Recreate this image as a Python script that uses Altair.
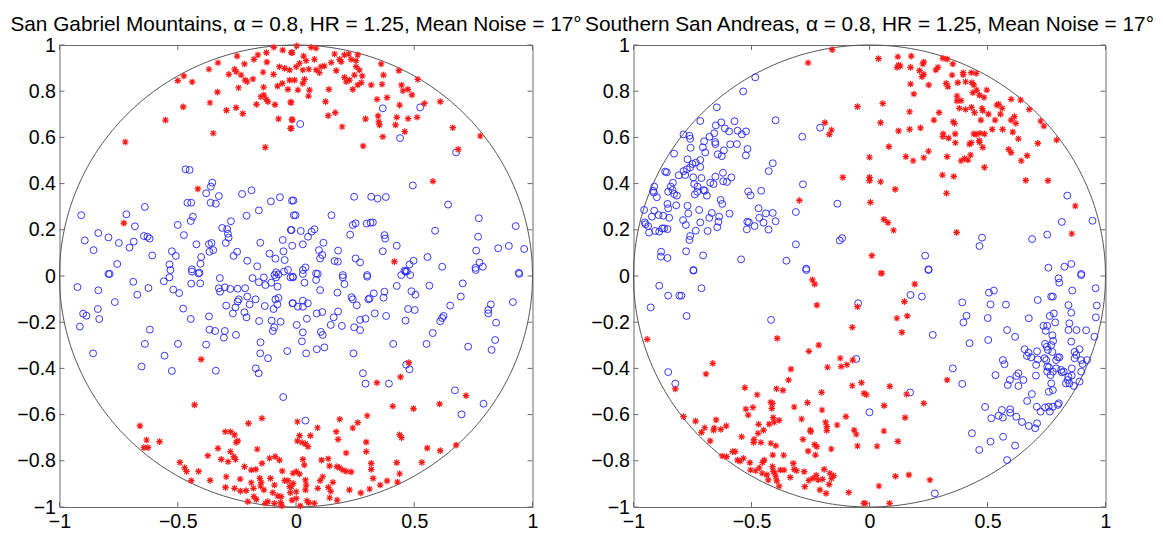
import altair as alt
import numpy as np
import pandas as pd

# ---------------- data ----------------
titles = [
    "San Gabriel Mountains, \u03b1 = 0.8, HR = 1.25, Mean Noise = 17\u00b0",
    "Southern San Andreas, \u03b1 = 0.8, HR = 1.25, Mean Noise = 17\u00b0",
]
x_ticks = [-1, -0.5, 0, 0.5, 1]
y_ticks = [-1, -0.8, -0.6, -0.4, -0.2, 0, 0.2, 0.4, 0.6, 0.8, 1]

# Left panel (San Gabriel Mountains): red asterisks
sg_red = [
    (-0.094, 0.990), (-0.056, 0.978), (-0.020, 0.967), (-0.249, 0.952), (-0.161, 0.957), (-0.125, 0.967),
    (-0.330, 0.923), (-0.218, 0.918), (-0.178, 0.938), (-0.123, 0.926), (-0.368, 0.895), (-0.260, 0.895),
    (-0.253, 0.885), (-0.284, 0.873), (-0.232, 0.870), (-0.215, 0.848), (-0.206, 0.841), (-0.182, 0.853),
    (-0.139, 0.882), (-0.095, 0.873), (-0.070, 0.906), (-0.048, 0.899), (-0.027, 0.892), (-0.474, 0.866),
    (-0.500, 0.846), (-0.439, 0.840), (-0.243, 0.815), (-0.137, 0.817), (-0.078, 0.822), (-0.058, 0.834),
    (-0.034, 0.808), (-0.027, 0.848), (-0.332, 0.796), (-0.149, 0.776), (-0.136, 0.783), (-0.126, 0.765),
    (-0.119, 0.755), (-0.167, 0.743), (-0.089, 0.742), (-0.023, 0.753), (-0.364, 0.750), (-0.477, 0.732),
    (-0.294, 0.717), (-0.253, 0.729), (-0.225, 0.703), (-0.552, 0.675), (-0.074, 0.680), (-0.017, 0.678),
    (-0.023, 0.639), (-0.350, 0.618), (-0.722, 0.580), (-0.130, 0.557), (-0.415, 0.377), (-0.728, 0.229),
    (0.003, 0.996), (-0.016, 0.967), (0.032, 0.952), (0.064, 0.990), (0.085, 0.986), (0.043, 0.932),
    (0.078, 0.938), (0.015, 0.921), (0.001, 0.906), (0.029, 0.892), (0.054, 0.895), (0.085, 0.892),
    (0.106, 0.906), (0.120, 0.909), (0.099, 0.880), (0.149, 0.924), (0.163, 0.961), (0.170, 0.889),
    (0.184, 0.938), (0.191, 0.928), (0.205, 0.957), (0.223, 0.961), (0.233, 0.938), (0.254, 0.932),
    (0.261, 0.957), (0.254, 0.906), (0.268, 0.892), (0.280, 0.866), (0.247, 0.870), (0.205, 0.860),
    (0.212, 0.841), (0.226, 0.848), (0.261, 0.827), (0.276, 0.837), (0.240, 0.808), (0.318, 0.827),
    (0.360, 0.918), (0.370, 0.870), (0.364, 0.830), (0.435, 0.889), (0.446, 0.827), (0.452, 0.802),
    (0.473, 0.808), (0.490, 0.784), (0.515, 0.851), (0.543, 0.747), (0.610, 0.755), (0.343, 0.765),
    (0.385, 0.772), (0.438, 0.740), (0.139, 0.808), (0.057, 0.805), (0.053, 0.779), (0.008, 0.805),
    (-0.020, 0.750), (0.125, 0.755), (0.166, 0.707), (0.136, 0.694), (-0.016, 0.675), (-0.020, 0.639),
    (0.195, 0.646), (0.294, 0.680), (0.347, 0.693), (0.350, 0.668), (0.353, 0.654), (0.426, 0.687),
    (0.421, 0.654), (0.474, 0.681), (0.512, 0.687), (0.460, 0.625), (0.367, 0.603), (0.284, 0.563),
    (0.663, 0.642), (0.779, 0.606), (0.686, 0.548), (0.579, 0.410), (0.416, 0.062), (0.036, 0.851),
    (0.029, 0.834), (-0.006, 0.848),
    (-0.401, -0.361), (-0.429, -0.558), (-0.660, -0.649), (-0.632, -0.710), (-0.643, -0.743), (-0.626, -0.743),
    (-0.577, -0.717), (-0.491, -0.807), (-0.471, -0.830), (-0.463, -0.846), (-0.412, -0.846), (-0.443, -0.886),
    (-0.363, -0.885), (-0.373, -0.778), (-0.330, -0.746), (-0.316, -0.794), (-0.299, -0.674), (-0.277, -0.674),
    (-0.277, -0.760), (-0.260, -0.688), (-0.253, -0.720), (-0.246, -0.714), (-0.263, -0.782), (-0.256, -0.794),
    (-0.287, -0.804), (-0.201, -0.638), (-0.144, -0.616), (-0.164, -0.750), (-0.218, -0.825), (-0.189, -0.840),
    (-0.170, -0.837), (-0.144, -0.811), (-0.112, -0.789), (-0.088, -0.782), (-0.070, -0.797), (-0.058, -0.844),
    (-0.048, -0.886), (-0.034, -0.886), (-0.013, -0.854), (-0.012, -0.898), (-0.027, -0.912), (-0.295, -0.869),
    (-0.298, -0.915), (-0.260, -0.919), (-0.236, -0.879), (-0.235, -0.931), (-0.211, -0.929), (-0.189, -0.895),
    (-0.180, -0.919), (-0.153, -0.876), (-0.147, -0.893), (-0.150, -0.909), (-0.136, -0.926), (-0.108, -0.876),
    (-0.091, -0.905), (-0.098, -0.938), (-0.077, -0.952), (-0.063, -0.955), (-0.119, -0.977), (-0.130, -0.984),
    (-0.091, -0.984), (-0.065, -0.981), (-0.060, -0.995), (-0.178, -0.955), (-0.168, -0.967), (-0.204, -0.977),
    (-0.024, -0.938), (-0.017, -0.970),
    (0.477, -0.375), (0.442, -0.437), (0.342, -0.462), (0.409, -0.564), (0.497, -0.574), (0.607, -0.554),
    (0.719, -0.518), (0.301, -0.605), (0.185, -0.620), (0.261, -0.635), (0.240, -0.658), (0.091, -0.657),
    (0.061, -0.691), (0.006, -0.631), (0.015, -0.691), (0.006, -0.714), (0.026, -0.721), (0.040, -0.727),
    (0.051, -0.739), (0.170, -0.674), (0.178, -0.707), (0.297, -0.719), (0.297, -0.760), (0.212, -0.766),
    (0.438, -0.687), (0.446, -0.700), (0.555, -0.745), (0.610, -0.756), (0.677, -0.732), (0.532, -0.807),
    (0.426, -0.808), (0.438, -0.856), (0.318, -0.811), (0.318, -0.837), (0.326, -0.876), (0.385, -0.887),
    (0.429, -0.892), (0.356, -0.905), (0.311, -0.922), (0.274, -0.939), (0.226, -0.926), (0.233, -0.848),
    (0.212, -0.846), (0.173, -0.825), (0.184, -0.830), (0.198, -0.840), (0.136, -0.791), (0.108, -0.797),
    (0.142, -0.822), (0.113, -0.869), (0.102, -0.886), (0.156, -0.893), (0.137, -0.915), (0.147, -0.932),
    (0.142, -0.960), (0.174, -0.970), (0.092, -0.919), (0.029, -0.794), (0.035, -0.818), (0.040, -0.883),
    (0.043, -0.905), (0.040, -0.926), (0.001, -0.847), (0.015, -0.857), (0.001, -0.934), (0.001, -0.963),
    (0.046, -0.973), (0.054, -0.981), (0.078, -0.984), (0.018, -0.995), (-0.020, -0.912),
]

# Left panel: blue circles
sg_blue = [
    (-0.467, 0.462), (-0.450, 0.459), (-0.354, 0.404), (-0.360, 0.387), (-0.380, 0.358), (-0.326, 0.346),
    (-0.228, 0.355), (-0.188, 0.371), (-0.361, 0.317), (-0.339, 0.313), (-0.459, 0.317), (-0.443, 0.317),
    (-0.639, 0.299), (-0.106, 0.323), (-0.068, 0.341), (-0.017, 0.326), (-0.908, 0.263), (-0.717, 0.267),
    (-0.436, 0.257), (-0.445, 0.238), (-0.209, 0.261), (-0.157, 0.284), (-0.009, 0.263), (-0.275, 0.237),
    (-0.681, 0.215), (-0.500, 0.221), (-0.312, 0.208), (-0.291, 0.203), (-0.836, 0.186), (-0.793, 0.167),
    (-0.749, 0.143), (-0.686, 0.149), (-0.643, 0.173), (-0.628, 0.170), (-0.619, 0.162), (-0.474, 0.177),
    (-0.288, 0.183), (-0.285, 0.166), (-0.893, 0.154), (-0.856, 0.112), (-0.704, 0.123), (-0.608, 0.089),
    (-0.525, 0.107), (-0.508, 0.087), (-0.421, 0.137), (-0.368, 0.138), (-0.357, 0.143), (-0.366, 0.105),
    (-0.350, 0.112), (-0.297, 0.143), (-0.249, 0.105), (-0.264, 0.087), (-0.206, 0.066), (-0.164, 0.042),
    (-0.151, 0.144), (-0.112, 0.097), (-0.087, 0.075), (-0.053, 0.107), (-0.056, 0.156), (-0.022, 0.199),
    (-0.048, 0.069), (-0.756, 0.052), (-0.793, 0.009), (-0.535, 0.050), (-0.531, 0.026), (-0.440, 0.029),
    (-0.404, 0.053), (-0.401, 0.082), (-0.412, 0.011), (-0.084, 0.016), (-0.034, 0.026),
    (0.367, 0.726), (0.525, 0.730), (0.018, 0.658), (0.440, 0.597), (0.677, 0.535), (0.494, 0.392),
    (-0.011, 0.327), (0.246, 0.343), (0.318, 0.343), (0.345, 0.335), (0.380, 0.342), (0.643, 0.309),
    (-0.002, 0.263), (0.150, 0.263), (0.773, 0.250), (-0.019, 0.199), (0.020, 0.195), (0.066, 0.192),
    (0.078, 0.202), (0.240, 0.221), (0.252, 0.228), (0.299, 0.227), (0.315, 0.231), (0.325, 0.232),
    (0.229, 0.179), (0.374, 0.177), (0.377, 0.162), (0.588, 0.196), (0.929, 0.216), (0.770, 0.170),
    (0.051, 0.170), (0.029, 0.137), (-0.016, 0.131), (0.116, 0.144), (0.426, 0.131), (0.178, 0.110),
    (0.097, 0.112), (0.111, 0.091), (0.102, 0.076), (0.367, 0.107), (0.762, 0.110), (0.855, 0.120),
    (0.900, 0.130), (0.965, 0.117), (0.163, 0.065), (0.177, 0.062), (0.252, 0.076), (0.271, 0.059),
    (0.556, 0.082), (0.497, 0.066), (0.480, 0.050), (0.459, 0.023), (0.469, 0.020), (0.618, 0.040),
    (0.776, 0.058), (0.790, 0.040), (0.759, 0.035), (0.942, 0.014), (0.029, 0.026), (0.040, 0.037),
    (0.198, 0.004), (0.301, 0.004), (0.085, 0.011),
    (-0.788, 0.009), (-0.688, -0.025), (-0.924, -0.048), (-0.836, -0.062), (-0.671, -0.081), (-0.624, -0.052),
    (-0.559, -0.023), (-0.535, -0.006), (-0.519, -0.059), (-0.494, -0.074), (-0.443, -0.033), (-0.440, 0.019),
    (-0.405, -0.032), (-0.408, 0.014), (-0.322, -0.009), (-0.326, -0.053), (-0.321, -0.068), (-0.301, -0.049),
    (-0.278, -0.056), (-0.247, -0.055), (-0.215, -0.053), (-0.184, -0.009), (-0.157, -0.027), (-0.136, -0.006),
    (-0.129, -0.039), (-0.105, -0.029), (-0.091, 0.004), (-0.084, -0.006), (-0.078, -0.046), (-0.074, 0.007),
    (-0.051, 0.019), (-0.023, -0.006), (-0.013, -0.003), (-0.766, -0.113), (-0.900, -0.163), (-0.886, -0.172),
    (-0.838, -0.143), (-0.832, -0.186), (-0.914, -0.219), (-0.618, -0.232), (-0.639, -0.294), (-0.858, -0.335),
    (-0.556, -0.345), (-0.653, -0.392), (-0.525, -0.411), (-0.499, -0.294), (-0.477, -0.141), (-0.445, -0.186),
    (-0.368, -0.175), (-0.366, -0.232), (-0.342, -0.238), (-0.301, -0.238), (-0.305, -0.267), (-0.380, -0.297),
    (-0.254, -0.255), (-0.295, -0.128), (-0.267, -0.162), (-0.256, -0.136), (-0.247, -0.111), (-0.242, -0.101),
    (-0.218, -0.157), (-0.209, -0.179), (-0.206, -0.089), (-0.196, -0.123), (-0.171, -0.101), (-0.156, -0.195),
    (-0.132, -0.130), (-0.095, -0.143), (-0.103, -0.193), (-0.092, -0.222), (-0.098, -0.238), (-0.087, -0.101),
    (-0.079, -0.123), (-0.065, -0.198), (-0.074, -0.095), (-0.150, -0.287), (-0.151, -0.335), (-0.118, -0.356),
    (-0.170, -0.400), (-0.158, -0.421), (-0.339, -0.410), (-0.037, -0.325), (-0.054, -0.524), (-0.015, -0.118),
    (-0.013, -0.006), (0.029, 0.009), (0.036, -0.029), (0.085, -0.017), (0.092, 0.009), (0.102, -0.061),
    (0.198, -0.006), (0.205, -0.035), (0.301, -0.003), (0.445, 0.004), (0.463, 0.019), (0.483, 0.004),
    (0.564, -0.042), (0.705, -0.032), (0.760, 0.026), (0.944, 0.009), (0.426, -0.043), (0.374, -0.068),
    (0.370, -0.094), (0.329, -0.075), (0.311, -0.097), (0.306, -0.101), (0.240, -0.101), (0.235, -0.092),
    (0.257, -0.127), (0.175, -0.072), (0.178, -0.154), (0.159, -0.179), (0.147, -0.212), (0.194, -0.216),
    (0.246, -0.222), (0.271, -0.234), (0.271, -0.190), (0.294, -0.185), (0.333, -0.162), (0.381, -0.173),
    (0.488, -0.066), (0.505, -0.081), (0.474, -0.143), (0.502, -0.147), (0.463, -0.193), (0.610, -0.196),
    (0.618, -0.182), (0.624, -0.173), (0.652, -0.128), (0.697, -0.089), (0.824, -0.123), (0.813, -0.147),
    (0.813, -0.162), (0.846, -0.202), (0.917, -0.113), (0.842, -0.277), (0.827, -0.320), (0.728, -0.306),
    (0.578, -0.247), (0.552, -0.294), (0.411, -0.294), (0.243, -0.335), (-0.013, -0.118), (0.008, -0.133),
    (0.029, -0.133), (0.029, -0.107), (0.050, -0.118), (0.088, -0.162), (0.111, -0.156), (0.003, -0.212),
    (0.029, -0.244), (0.025, -0.283), (0.046, -0.185), (0.105, -0.242), (0.113, -0.255), (0.088, -0.317),
    (0.120, -0.309), (0.043, -0.335), (0.283, -0.421), (0.294, -0.466), (0.393, -0.466), (0.466, -0.384),
    (0.480, -0.404), (0.672, -0.495), (0.793, -0.553), (0.700, -0.599), (0.040, -0.626),
]

# Right panel (Southern San Andreas): blue circles
ssa_blue = [
    (-0.484, 0.860), (-0.535, 0.799), (-0.647, 0.730), (-0.717, 0.671), (-0.398, 0.674), (-0.628, 0.665),
    (-0.613, 0.639), (-0.651, 0.652), (-0.572, 0.670), (-0.595, 0.626), (-0.559, 0.629), (-0.541, 0.613),
    (-0.523, 0.626), (-0.590, 0.570), (-0.562, 0.571), (-0.517, 0.550), (-0.524, 0.522), (-0.617, 0.544),
    (-0.626, 0.519), (-0.643, 0.527), (-0.653, 0.571), (-0.654, 0.580), (-0.658, 0.618), (-0.678, 0.603),
    (-0.701, 0.583), (-0.706, 0.557), (-0.696, 0.535), (-0.763, 0.607), (-0.760, 0.594), (-0.758, 0.555),
    (-0.788, 0.613), (-0.828, 0.530), (-0.771, 0.505), (-0.750, 0.485), (-0.760, 0.470), (-0.736, 0.491),
    (-0.717, 0.502), (-0.717, 0.472), (-0.808, 0.436), (-0.788, 0.454), (-0.781, 0.437), (-0.774, 0.462),
    (-0.747, 0.427), (-0.743, 0.398), (-0.729, 0.387), (-0.730, 0.365), (-0.712, 0.424), (-0.703, 0.372),
    (-0.675, 0.404), (-0.661, 0.398), (-0.653, 0.430), (-0.621, 0.447), (-0.620, 0.410), (-0.604, 0.407),
    (-0.585, 0.427), (-0.740, 0.353), (-0.698, 0.369), (-0.689, 0.348), (-0.833, 0.404), (-0.842, 0.387),
    (-0.853, 0.365), (-0.835, 0.372), (-0.828, 0.355), (-0.816, 0.348), (-0.866, 0.452), (-0.859, 0.449),
    (-0.912, 0.387), (-0.917, 0.369), (-0.914, 0.361), (-0.901, 0.341), (-0.819, 0.306), (-0.856, 0.312),
    (-0.853, 0.293), (-0.849, 0.252), (-0.894, 0.264), (-0.874, 0.261), (-0.922, 0.257), (-0.912, 0.283),
    (-0.955, 0.286), (-0.952, 0.232), (-0.949, 0.224), (-0.938, 0.216), (-0.934, 0.188), (-0.908, 0.195),
    (-0.891, 0.192), (-0.878, 0.206), (-0.870, 0.206), (-0.856, 0.203), (-0.790, 0.242), (-0.778, 0.221),
    (-0.768, 0.271), (-0.771, 0.304), (-0.722, 0.286), (-0.717, 0.232), (-0.679, 0.252), (-0.668, 0.273),
    (-0.631, 0.329), (-0.624, 0.312), (-0.637, 0.257), (-0.640, 0.235), (-0.645, 0.211), (-0.686, 0.195),
    (-0.736, 0.196), (-0.760, 0.173), (-0.763, 0.156), (-0.777, 0.107), (-0.705, 0.089), (-0.883, 0.105),
    (-0.884, 0.084), (-0.856, 0.078), (-0.746, 0.026), (-0.593, 0.270), (-0.544, 0.072), (-0.518, 0.235),
    (-0.511, 0.232), (-0.520, 0.202), (-0.487, 0.216), (-0.470, 0.293), (-0.467, 0.252), (-0.449, 0.231),
    (-0.439, 0.271), (-0.410, 0.273), (-0.398, 0.237), (-0.428, 0.201), (-0.514, 0.366), (-0.504, 0.349),
    (-0.459, 0.369), (-0.427, 0.454), (-0.410, 0.488), (-0.282, 0.397), (-0.312, 0.277), (-0.285, 0.603),
    (-0.209, 0.642), (-0.136, 0.313), (-0.116, 0.164), (-0.126, 0.154), (-0.312, 0.137), (-0.352, 0.066),
    (-0.268, 0.032),
    (0.838, 0.348), (0.815, 0.234), (0.945, 0.239), (0.753, 0.179), (0.689, 0.160), (0.477, 0.166),
    (0.466, 0.130), (0.236, 0.088), (0.250, 0.029), (0.758, 0.036), (0.826, 0.040), (0.855, 0.052),
    (0.897, 0.009),
    (-0.746, 0.023), (-0.891, -0.042), (-0.853, -0.085), (-0.806, -0.085), (-0.797, -0.085), (-0.712, -0.053),
    (-0.927, -0.136), (-0.775, -0.173), (-0.417, -0.190), (-0.268, 0.026), (-0.048, -0.118), (-0.056, -0.359),
    (-0.853, -0.416), (-0.823, -0.466), (0.000, -0.590),
    (0.250, 0.026), (0.174, -0.082), (0.222, -0.089), (0.393, -0.114), (0.411, -0.172), (0.398, -0.201),
    (0.268, -0.255), (0.353, -0.400), (0.393, -0.467), (0.172, -0.504), (0.506, -0.072), (0.527, -0.063),
    (0.513, -0.123), (0.578, -0.124), (0.501, -0.182), (0.503, -0.277), (0.583, -0.234), (0.617, -0.263),
    (0.424, -0.291), (0.565, -0.364), (0.572, -0.382), (0.534, -0.429), (0.595, -0.450), (0.586, -0.472),
    (0.622, -0.433), (0.631, -0.421), (0.631, -0.476), (0.652, -0.450), (0.657, -0.317), (0.674, -0.332),
    (0.667, -0.346), (0.685, -0.352), (0.710, -0.326), (0.706, -0.385), (0.705, -0.431), (0.688, -0.511),
    (0.713, -0.361), (0.668, -0.541), (0.737, -0.216), (0.747, -0.237), (0.753, -0.216), (0.764, -0.173),
    (0.781, -0.162), (0.787, -0.201), (0.713, -0.104), (0.675, -0.183), (0.744, -0.294), (0.751, -0.306),
    (0.756, -0.320), (0.770, -0.299), (0.775, -0.257), (0.778, -0.281), (0.775, -0.329), (0.742, -0.356),
    (0.749, -0.364), (0.753, -0.392), (0.760, -0.395), (0.753, -0.414), (0.767, -0.429), (0.770, -0.465),
    (0.760, -0.501), (0.777, -0.494), (0.791, -0.364), (0.798, -0.352), (0.805, -0.352), (0.812, -0.407),
    (0.815, -0.417), (0.823, -0.414), (0.791, -0.400), (0.777, -0.414), (0.840, -0.450), (0.843, -0.436),
    (0.857, -0.431), (0.857, -0.400), (0.832, -0.465), (0.847, -0.465), (0.866, -0.476), (0.890, -0.457),
    (0.869, -0.328), (0.876, -0.342), (0.890, -0.317), (0.869, -0.356), (0.897, -0.364), (0.922, -0.364),
    (0.903, -0.381), (0.897, -0.414), (0.855, -0.284), (0.847, -0.205), (0.843, -0.234), (0.877, -0.234),
    (0.918, -0.235), (0.953, -0.263), (0.959, -0.179), (0.963, -0.128), (0.958, -0.053), (0.897, 0.004),
    (0.801, -0.010), (0.804, -0.029), (0.859, -0.063), (0.770, -0.089), (0.777, -0.089), (0.843, -0.126),
    (0.855, -0.159), (0.490, -0.567), (0.516, -0.616), (0.547, -0.605), (0.561, -0.580), (0.565, -0.613),
    (0.596, -0.577), (0.596, -0.592), (0.622, -0.609), (0.646, -0.632), (0.675, -0.649), (0.702, -0.659),
    (0.710, -0.638), (0.709, -0.566), (0.725, -0.587), (0.744, -0.569), (0.759, -0.566), (0.764, -0.587),
    (0.777, -0.566), (0.798, -0.558), (0.802, -0.551), (0.434, -0.681), (0.465, -0.753), (0.513, -0.717),
    (0.566, -0.696), (0.617, -0.734), (0.583, -0.797), (0.277, -0.941),
]

# Right panel: red asterisks
ssa_red = [
    (-0.158, 0.980), (-0.260, 0.923), (-0.051, 0.733), (-0.189, 0.664), (-0.161, 0.632), (-0.170, 0.613),
    (-0.113, 0.427), (-0.297, 0.327),
    (0.038, 0.941), (0.120, 0.949), (0.177, 0.952), (0.123, 0.913), (0.117, 0.903), (0.131, 0.909),
    (0.174, 0.903), (0.230, 0.926), (0.226, 0.918), (0.212, 0.889), (0.230, 0.873), (0.222, 0.863),
    (0.281, 0.892), (0.290, 0.903), (0.251, 0.827), (0.174, 0.831), (0.188, 0.788), (0.056, 0.747),
    (0.311, 0.942), (0.329, 0.939), (0.353, 0.918), (0.350, 0.870), (0.325, 0.834), (0.332, 0.820),
    (0.374, 0.837), (0.397, 0.880), (0.397, 0.872), (0.431, 0.880), (0.452, 0.877), (0.407, 0.841),
    (0.434, 0.837), (0.442, 0.827), (0.454, 0.805), (0.438, 0.794), (0.466, 0.783), (0.485, 0.773),
    (0.497, 0.805), (0.371, 0.779), (0.388, 0.759), (0.371, 0.758), (0.381, 0.726), (0.407, 0.721),
    (0.432, 0.730), (0.445, 0.707), (0.477, 0.726), (0.480, 0.716), (0.504, 0.701), (0.472, 0.675),
    (0.532, 0.675), (0.540, 0.740), (0.547, 0.743), (0.562, 0.726), (0.555, 0.701), (0.600, 0.765),
    (0.640, 0.762), (0.677, 0.721), (0.600, 0.675), (0.614, 0.690), (0.620, 0.661), (0.564, 0.635),
    (0.520, 0.635), (0.607, 0.623), (0.631, 0.594), (0.725, 0.671), (0.739, 0.649), (0.793, 0.589),
    (0.713, 0.574), (0.643, 0.499), (0.668, 0.521), (0.590, 0.548), (0.600, 0.534), (0.487, 0.615),
    (0.468, 0.618), (0.452, 0.613), (0.442, 0.615), (0.465, 0.586), (0.466, 0.579), (0.480, 0.557),
    (0.431, 0.577), (0.424, 0.571), (0.428, 0.524), (0.417, 0.502), (0.388, 0.499), (0.403, 0.508),
    (0.363, 0.615), (0.364, 0.577), (0.335, 0.597), (0.312, 0.615), (0.311, 0.603), (0.355, 0.668),
    (0.360, 0.661), (0.295, 0.707), (0.273, 0.675), (0.170, 0.711), (0.047, 0.664), (0.123, 0.628),
    (0.170, 0.635), (0.216, 0.641), (0.250, 0.540), (0.230, 0.512), (0.185, 0.499), (0.154, 0.517),
    (0.082, 0.560), (0.000, 0.514), (0.000, 0.427), (0.000, 0.413), (0.047, 0.408), (0.109, 0.375),
    (0.329, 0.517), (0.309, 0.437), (0.357, 0.431), (0.487, 0.470), (0.662, 0.414), (0.756, 0.413),
    (0.326, 0.358), (0.004, 0.319), (0.061, 0.245), (0.078, 0.231), (0.102, 0.198), (0.369, 0.189),
    (0.872, 0.303), (0.857, 0.183), (0.010, 0.088), (0.049, 0.012),
    (-0.242, -0.017), (-0.232, -0.035), (-0.223, -0.126), (-0.051, -0.133), (-0.073, -0.222), (-0.942, -0.274),
    (-0.391, -0.270), (-0.215, -0.299), (-0.257, -0.326), (-0.124, -0.356), (-0.120, -0.392), (-0.096, -0.384),
    (-0.071, -0.364), (-0.178, -0.395), (-0.333, -0.403), (-0.343, -0.450), (-0.664, -0.378), (-0.693, -0.424),
    (-0.528, -0.483), (-0.476, -0.514), (-0.394, -0.488), (-0.367, -0.495), (-0.263, -0.548), (-0.203, -0.504),
    (-0.073, -0.475), (-0.034, -0.462), (-0.023, -0.508), (-0.823, -0.489), (-0.788, -0.609), (-0.737, -0.628),
    (-0.650, -0.623), (-0.607, -0.649), (-0.658, -0.658), (-0.661, -0.667), (-0.698, -0.657), (-0.712, -0.677),
    (-0.675, -0.714), (-0.630, -0.664), (-0.542, -0.696), (-0.524, -0.576), (-0.514, -0.602), (-0.494, -0.569),
    (-0.418, -0.547), (-0.411, -0.551), (-0.414, -0.573), (-0.408, -0.613), (-0.383, -0.625), (-0.404, -0.633),
    (-0.425, -0.641), (-0.470, -0.642), (-0.449, -0.667), (-0.472, -0.681), (-0.489, -0.707), (-0.491, -0.721),
    (-0.460, -0.721), (-0.418, -0.724), (-0.397, -0.735), (-0.319, -0.567), (-0.288, -0.619), (-0.251, -0.667),
    (-0.249, -0.674), (-0.282, -0.707), (-0.260, -0.758), (-0.232, -0.730), (-0.223, -0.739), (-0.229, -0.775),
    (-0.201, -0.580), (-0.186, -0.633), (-0.181, -0.652), (-0.181, -0.669), (-0.162, -0.749), (-0.137, -0.645),
    (-0.100, -0.609), (-0.065, -0.667), (-0.056, -0.685), (-0.051, -0.736), (-0.624, -0.779), (-0.606, -0.782),
    (-0.580, -0.760), (-0.569, -0.760), (-0.559, -0.797), (-0.548, -0.802), (-0.534, -0.789), (-0.507, -0.808),
    (-0.504, -0.840), (-0.482, -0.843), (-0.467, -0.830), (-0.453, -0.807), (-0.455, -0.854), (-0.435, -0.861),
    (-0.429, -0.883), (-0.411, -0.825), (-0.408, -0.846), (-0.401, -0.854), (-0.397, -0.869), (-0.393, -0.887),
    (-0.383, -0.910), (-0.378, -0.840), (-0.362, -0.840), (-0.336, -0.872), (-0.323, -0.811), (-0.319, -0.837),
    (-0.309, -0.843), (-0.277, -0.847), (-0.257, -0.885), (-0.274, -0.912), (-0.240, -0.876), (-0.226, -0.863),
    (-0.218, -0.883), (-0.210, -0.926), (-0.199, -0.880), (-0.192, -0.837), (-0.184, -0.941), (-0.168, -0.854),
    (-0.161, -0.876), (-0.171, -0.902), (-0.152, -0.864), (-0.088, -0.937), (-0.024, -0.984), (-0.410, -0.775),
    (-0.364, -0.776), (-0.446, -0.797),
    (0.052, 0.012), (0.192, -0.035), (0.148, -0.111), (0.116, -0.183), (0.160, -0.173), (0.137, -0.244),
    (0.329, -0.450), (0.086, -0.478), (0.157, -0.512), (-0.013, -0.514), (0.230, -0.551), (0.062, -0.561),
    (0.151, -0.613), (0.061, -0.671), (0.120, -0.716), (0.032, -0.737), (0.110, -0.867), (0.167, -0.861),
    (0.256, -0.883), (0.040, -0.909), (0.085, -0.984), (-0.018, -0.984),
]

# ---------------- styling ----------------
FONT = "Liberation Sans"
FRAME = "#6b6b6b"
BLUE = "#2222ff"
RED = "#ff1a1a"
ASTERISK = "M-1,0L1,0M0,-1L0,1M-0.72,-0.72L0.72,0.72M-0.72,0.72L0.72,-0.72"
PLOT_H = 462

theta = np.linspace(0, 2 * np.pi, 361)
circle_df = pd.DataFrame({"x": np.cos(theta), "y": np.sin(theta), "o": np.arange(361)})
xt_df = pd.DataFrame({"v": x_ticks})
yt_df = pd.DataFrame({"v": y_ticks})


def to_df(pairs):
    return pd.DataFrame(pairs, columns=["x", "y"])


def panel(blue, red, title, w, h):
    xs = alt.Scale(domain=[-1, 1], nice=False, zero=False)
    ys = alt.Scale(domain=[-1, 1], nice=False, zero=False)
    xax = alt.Axis(values=x_ticks, format="~g", ticks=False, domain=False, grid=False,
                   labelPadding=5, labelFlush=False, labelOverlap=False, title=None)
    yax = alt.Axis(values=y_ticks, format="~g", ticks=False, domain=False, grid=False,
                   labelPadding=4, labelFlush=False, labelOverlap=False, title=None)
    X = lambda f: alt.X(f, scale=xs, axis=xax, title=None)
    Y = lambda f: alt.Y(f, scale=ys, axis=yax, title=None)

    circ = alt.Chart(circle_df).mark_line(stroke="#555555", strokeWidth=1).encode(
        x=X("x:Q"), y=Y("y:Q"), order="o:Q")
    bl = alt.Chart(to_df(blue)).mark_point(shape="circle", filled=False, size=48,
                                           stroke=BLUE, strokeWidth=0.9, opacity=1).encode(
        x=X("x:Q"), y=Y("y:Q"))
    rd = alt.Chart(to_df(red)).mark_point(shape=ASTERISK, filled=False, size=44,
                                          stroke=RED, strokeWidth=1.2, opacity=1).encode(
        x=X("x:Q"), y=Y("y:Q"))
    tb = alt.Chart(xt_df).mark_rule(stroke=FRAME, strokeWidth=1).encode(
        x=X("v:Q"), y=alt.value(h), y2=alt.value(h - 5))
    tt = alt.Chart(xt_df).mark_rule(stroke=FRAME, strokeWidth=1).encode(
        x=X("v:Q"), y=alt.value(0), y2=alt.value(5))
    tl = alt.Chart(yt_df).mark_rule(stroke=FRAME, strokeWidth=1).encode(
        y=Y("v:Q"), x=alt.value(0), x2=alt.value(5))
    tr = alt.Chart(yt_df).mark_rule(stroke=FRAME, strokeWidth=1).encode(
        y=Y("v:Q"), x=alt.value(w), x2=alt.value(w - 5))
    return alt.layer(circ, bl, rd, tb, tt, tl, tr).properties(
        width=w, height=h,
        title=alt.TitleParams(text=title, fontSize=20.8, font=FONT, fontWeight="normal",
                              color="black", anchor="middle", baseline="alphabetic", offset=-17),
    )


left = panel(sg_blue, sg_red, titles[0], 473, PLOT_H)
right = panel(ssa_blue, ssa_red, titles[1], 472, PLOT_H)

chart = alt.hconcat(left, right, spacing=101, bounds="flush").properties(
    padding={"left": 9.5, "top": 13, "right": 5, "bottom": 5},
    background="white",
).configure_view(
    stroke=FRAME, strokeWidth=1
).configure_axis(
    labelFont=FONT, labelFontSize=19.6, labelColor="black"
)

chart.save("out.html", embed_options={"renderer": "svg", "actions": False})
